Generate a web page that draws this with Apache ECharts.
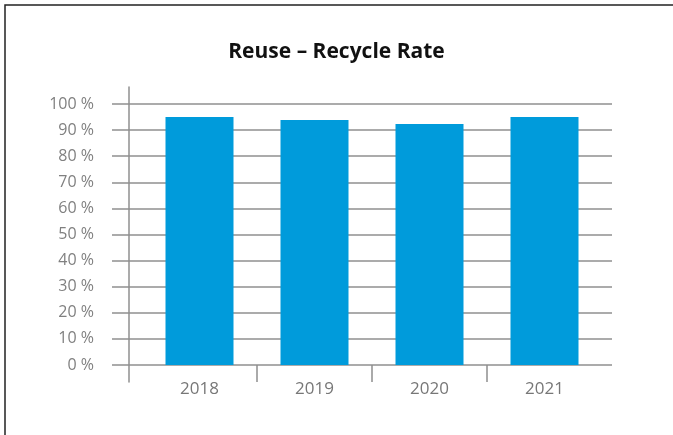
<!DOCTYPE html>
<html>
<head>
<meta charset="utf-8">
<script src="https://cdn.jsdelivr.net/npm/echarts@6/dist/echarts.min.js"></script>
<style>
html,body{margin:0;padding:0;background:#fff;}
#c{width:673px;height:435px;}
</style>
</head>
<body>
<div id="c"></div>
<script>
const categories = ['2018', '2019', '2020', '2021'];
const rateValues = [95.0, 93.9, 92.3, 95.0];
const titleText = 'Reuse \u2013 Recycle Rate';
const boundaryTicks = [1, 2, 3];

const chart = echarts.init(document.getElementById('c'), null, {renderer: 'canvas'});
const gray = '#8f8f8f';
chart.setOption({
  animation: false,
  backgroundColor: '#fff',
  title: {
    text: titleText,
    left: 'center',
    top: 37,
    textStyle: {fontFamily: 'Open Sans', fontWeight: 'bold', fontSize: 21, color: '#111'}
  },
  graphic: [{
    type: 'rect',
    shape: {x: 5, y: 5, width: 720, height: 480},
    style: {fill: 'none', stroke: '#222', lineWidth: 1.5},
    silent: true
  }],
  grid: [
    {left: 112, right: 61, top: 104, bottom: 70},
    {left: 142, right: 71, top: 104, bottom: 70},
    {left: 129, right: 61, top: 87, bottom: 53}
  ],
  xAxis: [
    {gridIndex: 0, type: 'value', show: false},
    {
      gridIndex: 1, type: 'category', data: categories,
      axisLine: {show: false},
      axisTick: {show: false},
      axisLabel: {color: '#777', fontSize: 17, fontFamily: 'Open Sans', margin: 16}
    },
    {gridIndex: 2, type: 'value', show: false},
    {
      gridIndex: 1, type: 'value', min: 0, max: 4, position: 'bottom',
      axisLine: {show: false}, axisLabel: {show: false}, splitLine: {show: false},
      axisTick: {show: true, length: 17, customValues: boundaryTicks, lineStyle: {color: gray, width: 1.5}}
    }
  ],
  yAxis: [
    {
      gridIndex: 0, type: 'value', min: 0, max: 100, interval: 10,
      axisLine: {show: false}, axisTick: {show: false},
      splitLine: {lineStyle: {color: gray, width: 1.5}},
      axisLabel: {formatter: '{value} %', color: '#808080', fontSize: 16, fontFamily: 'Open Sans', margin: 18}
    },
    {gridIndex: 1, type: 'value', min: 0, max: 100, show: false},
    {
      gridIndex: 2, type: 'value', min: 0, max: 1,
      axisLine: {show: true, lineStyle: {color: gray, width: 1.5}},
      axisTick: {show: false}, axisLabel: {show: false}, splitLine: {show: false}
    }
  ],
  series: [{
    type: 'bar',
    xAxisIndex: 1, yAxisIndex: 1,
    data: rateValues,
    barWidth: 68,
    itemStyle: {color: '#009bdb'}
  }]
});
</script>
</body>
</html>
